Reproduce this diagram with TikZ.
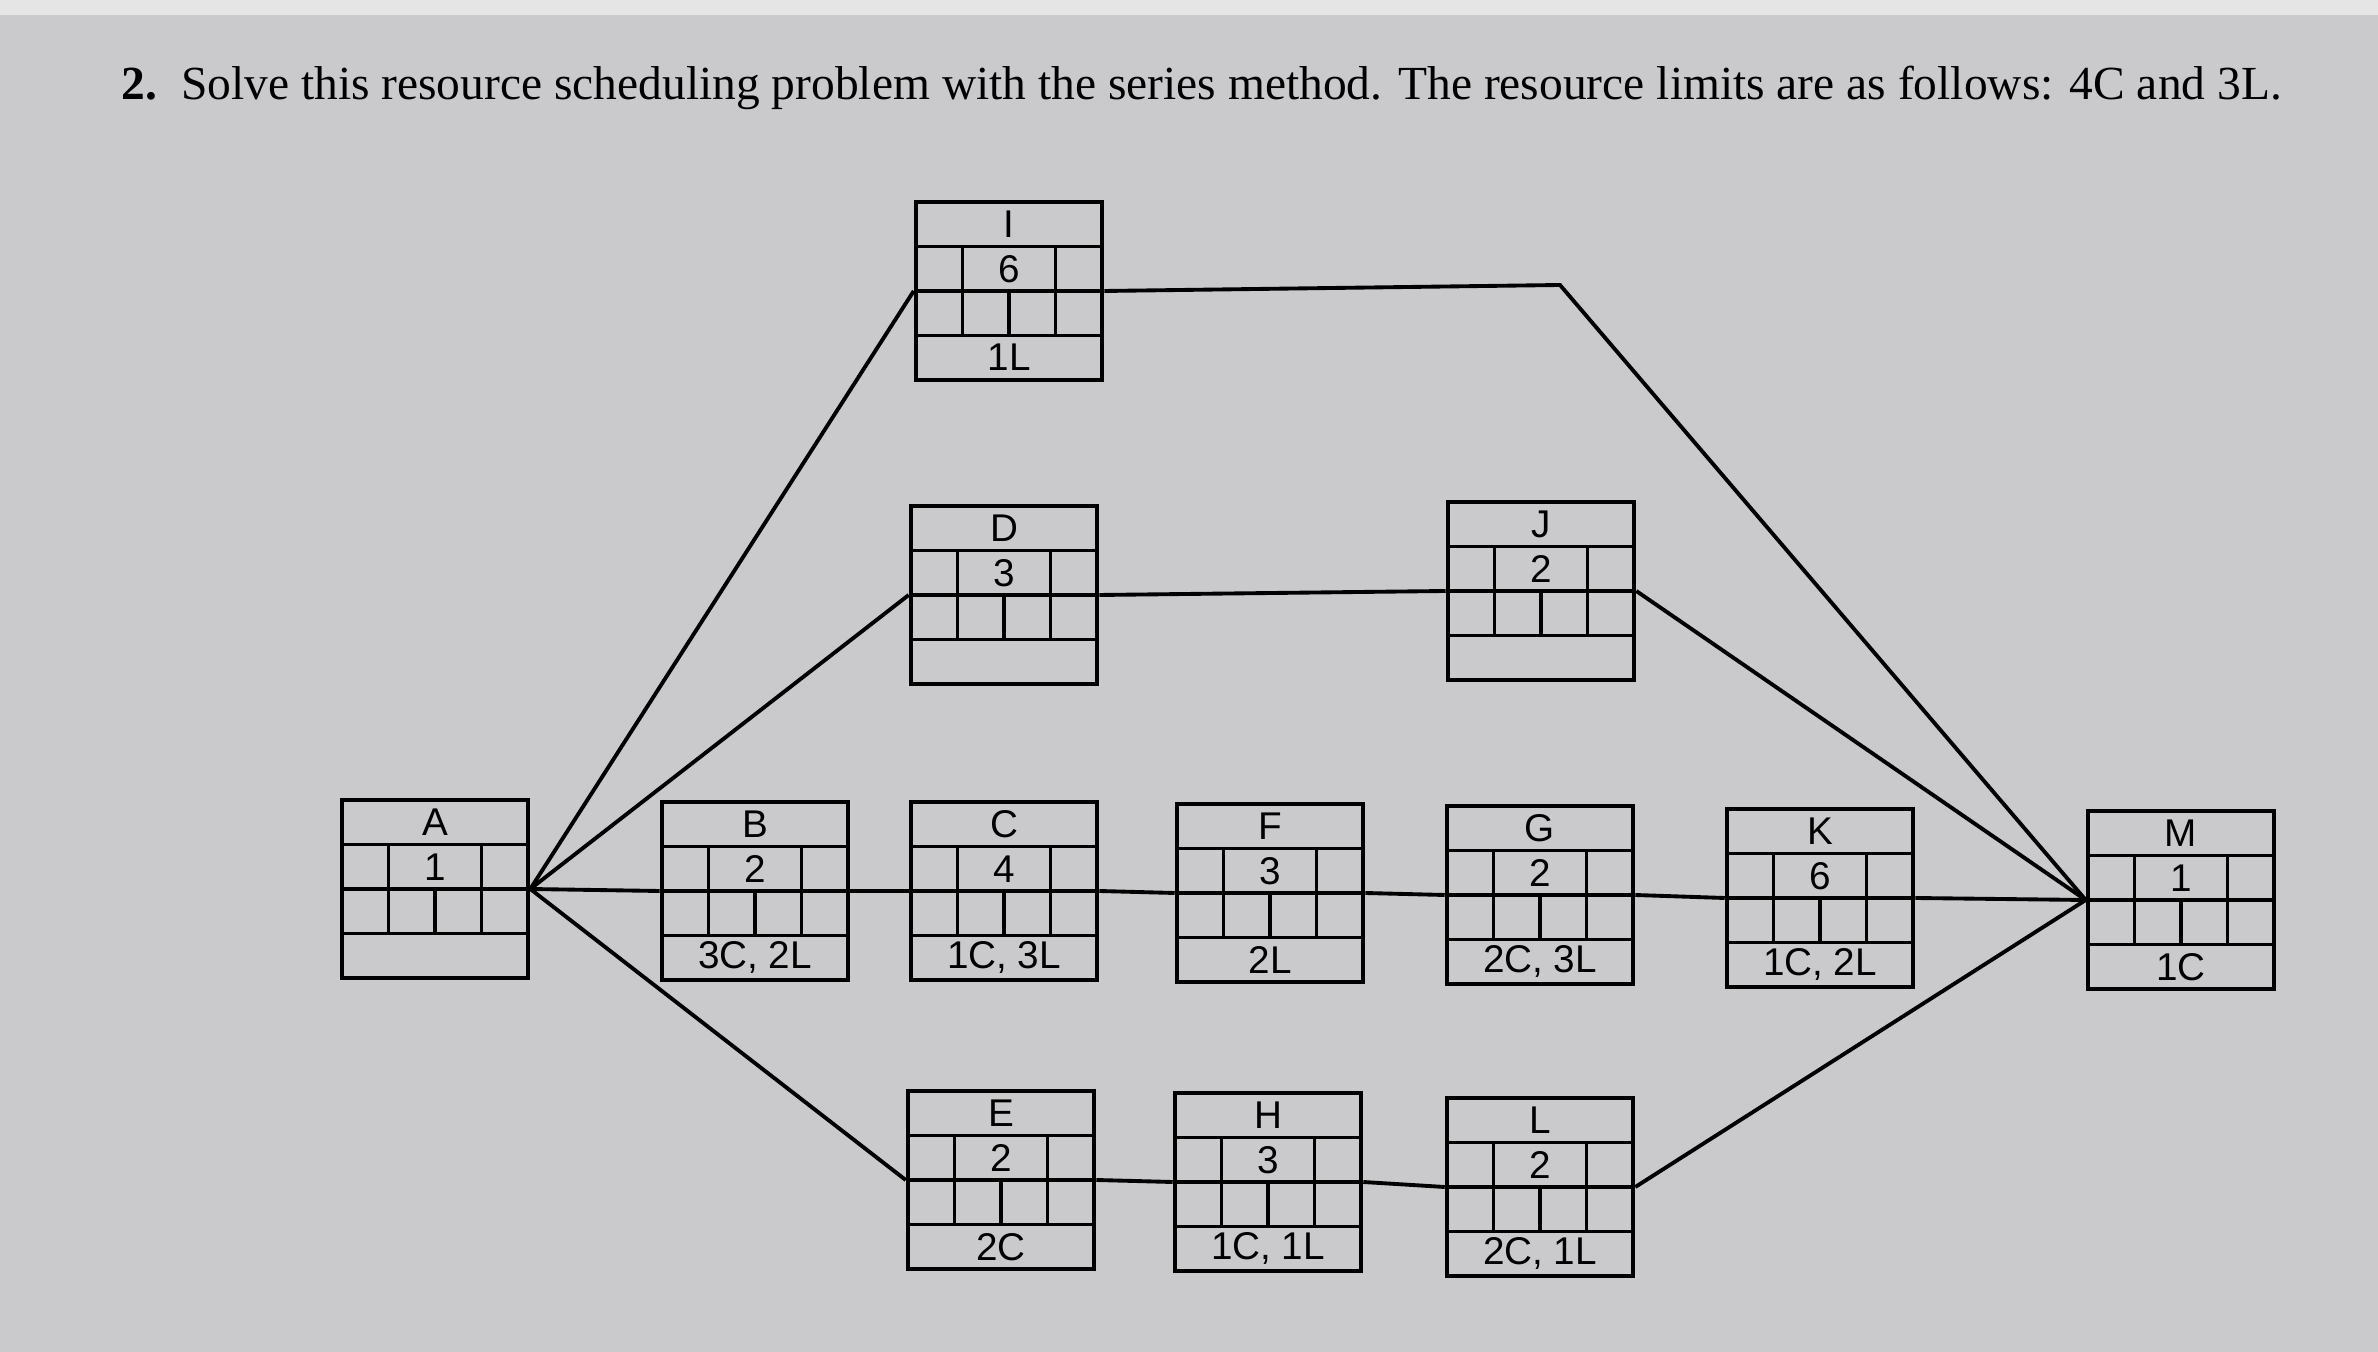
\documentclass[tikz,border=0pt]{standalone}
\usepackage{fontspec}
\setmainfont{Liberation Serif}
\newfontfamily\nodefont{Liberation Sans}
\definecolor{paper}{RGB}{202,202,204}
\tikzset{
  actbox/.style={draw,line width=1.3pt,minimum width=1.86cm,minimum height=1.78cm,inner sep=0pt},
  grid/.style={line width=1.1pt},
  lbl/.style={font=\nodefont\fontsize{11}{13}\selectfont,inner sep=0pt},
  conn/.style={line width=1.1pt}
}
\newcommand{\actnode}[5]{%
  \node[actbox] (#1) at (#2) {};
  \begin{scope}[shift={(#2)}]
    \draw[grid] (-0.93,0.445) -- (0.93,0.445) (-0.93,0) -- (0.93,0) (-0.93,-0.445) -- (0.93,-0.445)
      (-0.465,0.445) -- (-0.465,-0.445) (0.465,0.445) -- (0.465,-0.445) (0,0) -- (0,-0.445);
    \node[lbl] (#1-t) at (0,0.667) {#3};
    \node[lbl] (#1-d) at (0,0.222) {#4};
    \node[lbl] (#1-r) at (0,-0.667) {#5};
  \end{scope}}
\begin{document}
\begin{tikzpicture}
\fill[paper] (0,0) rectangle (23.78,-13.52);
\fill[gray!20] (0,0) rectangle (23.78,-0.15);
\useasboundingbox (0,0) rectangle (23.78,-13.52);
\node[anchor=west,inner sep=0pt] (title) at (1.21,-0.88)
  {\resizebox{21.6cm}{!}{\textbf{2.}\ \ Solve this resource scheduling problem with the series method. The resource limits are as follows: 4C and 3L.}};
\actnode{A}{4.35,-8.89}{A}{1}{}
\actnode{B}{7.55,-8.91}{B}{2}{3C, 2L}
\actnode{C}{10.04,-8.91}{C}{4}{1C, 3L}
\actnode{F}{12.70,-8.93}{F}{3}{2L}
\actnode{G}{15.40,-8.95}{G}{2}{2C, 3L}
\actnode{K}{18.20,-8.98}{K}{6}{1C, 2L}
\actnode{M}{21.81,-9.00}{M}{1}{1C}
\actnode{I}{10.09,-2.91}{I}{6}{1L}
\actnode{D}{10.04,-5.95}{D}{3}{}
\actnode{J}{15.41,-5.91}{J}{2}{}
\actnode{E}{10.01,-11.80}{E}{2}{2C}
\actnode{H}{12.68,-11.82}{H}{3}{1C, 1L}
\actnode{L}{15.40,-11.87}{L}{2}{2C, 1L}
\coordinate (Ibend) at (15.6,-2.85);
\draw[conn] (A.east) -- (I.west);
\draw[conn] (A.east) -- (D.west);
\draw[conn] (A.east) -- (B.west);
\draw[conn] (A.east) -- (E.west);
\draw[conn] (B.east) -- (C.west);
\draw[conn] (C.east) -- (F.west);
\draw[conn] (F.east) -- (G.west);
\draw[conn] (G.east) -- (K.west);
\draw[conn] (K.east) -- (M.west);
\draw[conn] (I.east) -- (Ibend) -- (M.west);
\draw[conn] (D.east) -- (J.west);
\draw[conn] (J.east) -- (M.west);
\draw[conn] (E.east) -- (H.west);
\draw[conn] (H.east) -- (L.west);
\draw[conn] (L.east) -- (M.west);
\end{tikzpicture}
\end{document}
